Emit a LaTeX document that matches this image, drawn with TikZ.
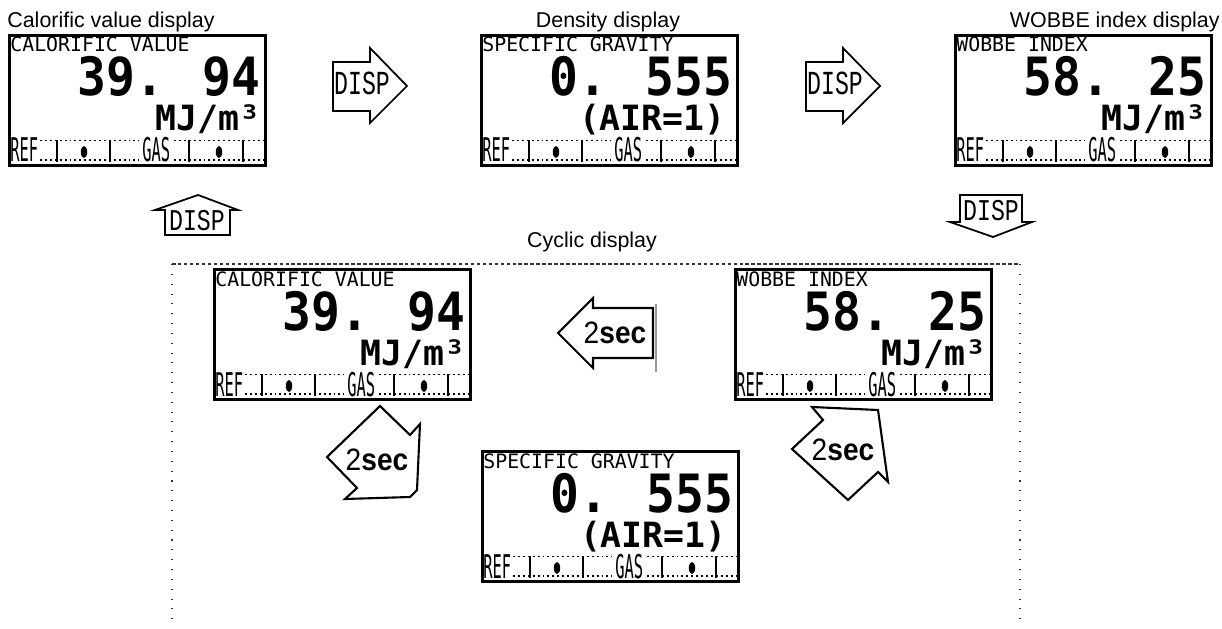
\documentclass[tikz,border=0pt]{standalone}
\usepackage{fontspec}
\setmainfont{Liberation Sans}
\newfontfamily\lcdfont{DejaVu Sans Mono}
\newfontfamily\keyfont{Liberation Mono}
\definecolor{Ink}{HTML}{000000}
\definecolor{Shade}{HTML}{9A9A9A}

% one LCD panel: name, x, y, label, value, unit, unit x
\newcommand{\lcdpanel}[7]{%
  \begin{scope}[shift={(#2,#3)}]
    \node[lcd] (#1) at (0,0) {};
    \node[lcdlabel] (#1-label) at (2,18) {#4};
    \node[lcdvalue] (#1-value) at (253,62) {\scalebox{1}[1.1]{#5}};
    \node[lcdunit] (#1-unit) at (#7,97) {#6};
    \node[lcdtag] (#1-ref) at (2,128) {\scalebox{0.73}[1.55]{REF}};
    \node[lcdtag] (#1-gas) at (134,128) {\scalebox{0.73}[1.55]{GAS}};
    \foreach \bx in {49,102,181,235}
      \draw[lcdbar] (\bx,106) -- (\bx,128);
    \fill[Ink] (76,118) ellipse [x radius=3.2, y radius=6];
    \fill[Ink] (211,118) ellipse [x radius=3.2, y radius=6];
    \draw[lcddots] (32,106.5) -- (131,106.5) (166,106.5) -- (255,106.5);
    \draw[lcddots] (32,126) -- (131,126) (166,126) -- (255,126);
  \end{scope}}

\begin{document}
\begin{tikzpicture}[x=0.02cm, y=-0.02cm,
  lcd/.style={draw=Ink, line width=1.7pt, minimum width=5.12cm, minimum height=2.6cm, inner sep=0pt, anchor=north west},
  lcdlabel/.style={font=\lcdfont\fontsize{11.3}{13}\selectfont, anchor=base west, inner sep=0pt},
  lcdvalue/.style={font=\lcdfont\bfseries\fontsize{27.3}{30}\selectfont, anchor=base east, inner sep=0pt},
  lcdunit/.style={font=\lcdfont\bfseries\fontsize{19.8}{22}\selectfont, anchor=base east, inner sep=0pt},
  lcdtag/.style={font=\lcdfont\fontsize{12}{14}\selectfont, anchor=base west, inner sep=0pt},
  lcdbar/.style={Ink, line width=1.1pt},
  lcddots/.style={Ink, line width=1.1pt, dash pattern=on 1.1pt off 1.7pt},
  caption/.style={font=\fontsize{12.2}{14}\selectfont, inner sep=0pt},
  keyarrow/.style={draw=Ink, line width=1pt, fill=white},
  keytext/.style={font=\keyfont\fontsize{13.2}{15}\selectfont, inner sep=0pt, anchor=base},
  secarrow/.style={draw=Ink, line width=1.2pt, fill=white},
  sectext/.style={font=\fontsize{16}{18}\selectfont, inner sep=0pt, anchor=base},
  framedash/.style={Ink!80, line width=0.6pt, dash pattern=on 2pt off 1.4pt},
  framedot/.style={Ink!80, line width=1pt, dash pattern=on 0.6pt off 5pt}]
  \useasboundingbox (0,0) rectangle (1222,628);

  % titles
  \node[caption, anchor=base west] (title-cal) at (7,27.5) {Calorific value display};
  \node[caption, anchor=base] (title-den) at (608,27.5) {Density display};
  \node[caption, anchor=base east] (title-wob) at (1220,27.5) {WOBBE index display};
  \node[caption, anchor=base] (title-cyc) at (592,247) {Cyclic display};

  \lcdpanel{cal}{8}{34}{CALORIFIC VALUE}{39. 94}{MJ/m³}{253}
  \lcdpanel{den}{480}{34}{SPECIFIC GRAVITY}{0. 555}{(AIR=1)}{246}
  \lcdpanel{wob}{954}{34}{WOBBE INDEX}{58. 25}{MJ/m³}{253}

  % DISP keys
  \draw[keyarrow] (333,62) -- (370,62) -- (370,48) -- (407,86) -- (370,123) -- (370,111) -- (333,111) -- cycle;
  \node[keytext] (disp-a) at (362,95) {\scalebox{1}[1.45]{DISP}};
  \draw[keyarrow] (806,62) -- (843,62) -- (843,48) -- (880,86) -- (843,123) -- (843,111) -- (806,111) -- cycle;
  \node[keytext] (disp-b) at (835,95) {\scalebox{1}[1.45]{DISP}};
  \draw[keyarrow] (165,235) -- (165,210) -- (155,210) -- (198,195) -- (238,210) -- (230,210) -- (230,235) -- cycle;
  \node[keytext] (disp-up) at (197,230) {\scalebox{1}[1.3]{DISP}};
  \draw[keyarrow] (960,195) -- (1022,195) -- (1022,222) -- (1032,222) -- (993,237) -- (950,222) -- (960,222) -- cycle;
  \node[keytext] (disp-down) at (991,220) {\scalebox{1}[1.3]{DISP}};

  % cyclic frame
  \draw[framedash] (172,264) -- (1020,264);
  \draw[framedot] (172,264) -- (172,628) (1020,264) -- (1020,628);

  \lcdpanel{cyc-cal}{213}{268}{CALORIFIC VALUE}{39. 94}{MJ/m³}{253}
  \lcdpanel{cyc-wob}{734}{268}{WOBBE INDEX}{58. 25}{MJ/m³}{253}
  \lcdpanel{cyc-den}{481}{450}{SPECIFIC GRAVITY}{0. 555}{(AIR=1)}{246}

  % 2sec arrows
  \draw[Shade, line width=0.6pt] (656,304) -- (656,372);
  \draw[secarrow] (558,333) -- (593,298) -- (593,308) -- (653,308) -- (653,358) -- (593,358) -- (593,368) -- cycle;
  \node[sectext] (sec-a) at (615,343) {\scalebox{1}[1.1]{2\textbf{sec}}};
  \draw[secarrow] (327,457) -- (380,406) -- (410,435) -- (420,424) -- (417,490) -- (410,497) -- (345,499) -- (357,488) -- cycle;
  \node[sectext] (sec-b) at (377,470) {\scalebox{1}[1.1]{2\textbf{sec}}};
  \draw[secarrow] (792,449) -- (823,420) -- (812,407) -- (878,410) -- (888,482) -- (878,472) -- (848,500) -- cycle;
  \node[sectext] (sec-c) at (843,460) {\scalebox{1}[1.1]{2\textbf{sec}}};
\end{tikzpicture}
\end{document}
